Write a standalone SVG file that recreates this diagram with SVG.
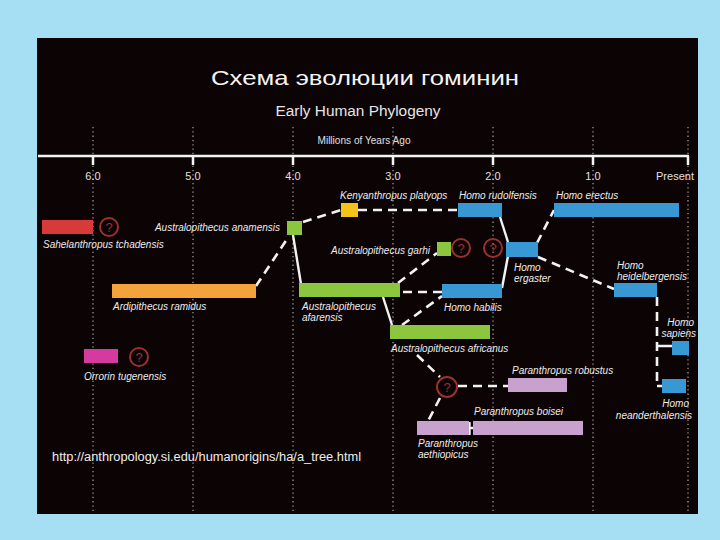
<svg xmlns="http://www.w3.org/2000/svg" width="720" height="540" viewBox="0 0 720 540">
<style>
.lbl{font-family:"Liberation Sans",Arial,sans-serif;font-style:italic;font-size:10px;fill:#ececec}
.ax{font-family:"Liberation Sans",Arial,sans-serif;font-size:11px;fill:#e0e0e0;text-anchor:middle}
.grid{stroke:#9a9a9a;stroke-width:1.3;stroke-dasharray:1.3 3}
.dash{fill:none;stroke:#f2f2f2;stroke-width:2.6;stroke-dasharray:9 6}
.solid{fill:none;stroke:#f2f2f2;stroke-width:2.4}
.q circle{fill:none;stroke:#9c3030;stroke-width:2}
.q text{font-family:"Liberation Sans",Arial,sans-serif;font-size:13px;fill:#9c3030;text-anchor:middle}
.red{fill:#d83a3a}.ora{fill:#f4a23a}.grn{fill:#8cc63f}.yel{fill:#f5c21a}.blu{fill:#3798d4}.mag{fill:#d53a9f}.pnk{fill:#c9a1cf}
</style>
<rect x="0" y="0" width="720" height="540" fill="#a6def4"/>
<rect x="37" y="38" width="661" height="476" fill="#0c0304"/>
<g id="title">
<text x="365" y="85" font-family="'Liberation Sans',Arial,sans-serif" font-size="21" fill="#f4f4f4" text-anchor="middle" textLength="308" lengthAdjust="spacingAndGlyphs">Схема эволюции гоминин</text>
<text x="358" y="116" font-family="'Liberation Sans',Arial,sans-serif" font-size="14" fill="#e6e6e6" text-anchor="middle" textLength="165" lengthAdjust="spacingAndGlyphs">Early Human Phylogeny</text>
<text x="364" y="144" font-family="'Liberation Sans',Arial,sans-serif" font-size="10.5" fill="#e0e0e0" text-anchor="middle" textLength="93" lengthAdjust="spacingAndGlyphs">Millions of Years Ago</text>
</g>
<g id="axis">
<line class="grid" x1="93" y1="127" x2="93" y2="512"/>
<line class="grid" x1="193" y1="127" x2="193" y2="512"/>
<line class="grid" x1="293" y1="127" x2="293" y2="512"/>
<line class="grid" x1="393" y1="127" x2="393" y2="512"/>
<line class="grid" x1="493" y1="127" x2="493" y2="512"/>
<line class="grid" x1="593" y1="127" x2="593" y2="512"/>
<line class="grid" x1="688" y1="127" x2="688" y2="512"/>
<line x1="38" y1="156" x2="689" y2="156" stroke="#f4f4f4" stroke-width="2.5"/>
<path d="M93 156V165M193 156V165M293 156V165M393 156V165M493 156V165M593 156V165M688 156V165" stroke="#f4f4f4" stroke-width="2.5"/>
<text class="ax" x="93" y="180">6.0</text>
<text class="ax" x="193" y="180">5.0</text>
<text class="ax" x="293" y="180">4.0</text>
<text class="ax" x="393" y="180">3.0</text>
<text class="ax" x="493" y="180">2.0</text>
<text class="ax" x="593" y="180">1.0</text>
<text class="ax" x="675" y="180">Present</text>
</g>
<g id="connectors">
<line class="dash" x1="256" y1="286" x2="289" y2="236"/>
<line class="solid" x1="293" y1="235" x2="301" y2="284"/>
<line class="dash" x1="303" y1="222" x2="341" y2="210"/>
<line class="dash" x1="358" y1="210" x2="458" y2="210"/>
<line class="dash" x1="398" y1="283" x2="437" y2="253"/>
<line class="dash" x1="403" y1="292" x2="442" y2="292"/>
<line class="solid" x1="383" y1="297" x2="392" y2="325"/>
<line class="dash" x1="402" y1="325" x2="442" y2="296"/>
<line class="solid" x1="500" y1="217" x2="508" y2="242"/>
<line class="solid" x1="502" y1="288" x2="508" y2="256"/>
<line class="dash" x1="537" y1="243" x2="554" y2="210"/>
<line class="dash" x1="538" y1="257" x2="614" y2="289"/>
<line class="dash" x1="657" y1="297" x2="657" y2="386"/>
<path class="solid" d="M657 346H672M657 386H662"/>
<line class="dash" x1="417" y1="355" x2="440" y2="377"/>
<line class="dash" x1="458" y1="386" x2="508" y2="386"/>
<line class="dash" x1="440" y1="398" x2="428" y2="421"/>
<path class="solid" d="M469.5 422V435M469.5 428H473"/>
</g>
<g id="sahelanthropus">
<rect class="red" x="42" y="220" width="51" height="14"/>
<text class="lbl" x="43" y="248">Sahelanthropus tchadensis</text>
</g>
<g id="q1" class="q"><circle cx="109" cy="227" r="9"/><text x="109" y="232">?</text></g>
<g id="orrorin">
<rect class="mag" x="84" y="349" width="34" height="14"/>
<text class="lbl" x="84" y="380">Orrorin tugenensis</text>
</g>
<g id="q2" class="q"><circle cx="139" cy="357" r="9"/><text x="139" y="362">?</text></g>
<g id="ardipithecus">
<rect class="ora" x="112" y="284" width="144" height="14"/>
<text class="lbl" x="113" y="310">Ardipithecus ramidus</text>
</g>
<g id="anamensis">
<rect class="grn" x="287" y="221" width="15" height="14"/>
<text class="lbl" x="280" y="231" text-anchor="end">Australopithecus anamensis</text>
</g>
<g id="kenyanthropus">
<rect class="yel" x="341" y="203" width="17" height="14"/>
<text class="lbl" x="340" y="199">Kenyanthropus platyops</text>
</g>
<g id="rudolfensis">
<rect class="blu" x="458" y="203" width="44" height="14"/>
<text class="lbl" x="459" y="199">Homo rudolfensis</text>
</g>
<g id="erectus">
<rect class="blu" x="554" y="203" width="125" height="14"/>
<text class="lbl" x="556" y="199">Homo erectus</text>
</g>
<g id="garhi">
<rect class="grn" x="437" y="242" width="14" height="14"/>
<text class="lbl" x="430" y="254" text-anchor="end">Australopithecus garhi</text>
</g>
<g id="q3" class="q"><circle cx="461" cy="248" r="9"/><text x="461" y="253">?</text></g>
<g id="q4" class="q"><circle cx="493" cy="248" r="9"/><text x="493" y="253">?</text></g>
<g id="ergaster">
<rect class="blu" x="506" y="242" width="32" height="15"/>
<text class="lbl" x="514" y="271">Homo</text>
<text class="lbl" x="514" y="282">ergaster</text>
</g>
<g id="afarensis">
<rect class="grn" x="299" y="283" width="101" height="14"/>
<text class="lbl" x="302" y="310">Australopithecus</text>
<text class="lbl" x="302" y="321">afarensis</text>
</g>
<g id="habilis">
<rect class="blu" x="442" y="284" width="60" height="14"/>
<text class="lbl" x="444" y="311">Homo habilis</text>
</g>
<g id="africanus">
<rect class="grn" x="390" y="325" width="100" height="14"/>
<text class="lbl" x="391" y="352">Australopithecus africanus</text>
</g>
<g id="heidelbergensis">
<rect class="blu" x="614" y="283" width="43" height="14"/>
<text class="lbl" x="617" y="269">Homo</text>
<text class="lbl" x="617" y="280">heidelbergensis</text>
</g>
<g id="sapiens">
<rect class="blu" x="672" y="341" width="17" height="14"/>
<text class="lbl" x="694" y="326" text-anchor="end">Homo</text>
<text class="lbl" x="696" y="337" text-anchor="end">sapiens</text>
</g>
<g id="neanderthalensis">
<rect class="blu" x="662" y="379" width="24" height="14"/>
<text class="lbl" x="689" y="407" text-anchor="end">Homo</text>
<text class="lbl" x="692" y="419" text-anchor="end">neanderthalensis</text>
</g>
<g id="q5" class="q"><circle cx="447" cy="387" r="10"/><text x="447" y="392">?</text></g>
<g id="robustus">
<rect class="pnk" x="508" y="378" width="59" height="14"/>
<text class="lbl" x="512" y="374">Paranthropus robustus</text>
</g>
<g id="boisei">
<rect class="pnk" x="473" y="421" width="110" height="14"/>
<text class="lbl" x="474" y="415">Paranthropus boisei</text>
</g>
<g id="aethiopicus">
<rect class="pnk" x="417" y="421" width="52" height="14"/>
<text class="lbl" x="418" y="447">Paranthropus</text>
<text class="lbl" x="418" y="458">aethiopicus</text>
</g>
<g id="source">
<text x="52" y="461" font-family="'Liberation Sans',Arial,sans-serif" font-size="12.5" fill="#eeeeee" textLength="309" lengthAdjust="spacingAndGlyphs">http://anthropology.si.edu/humanorigins/ha/a_tree.html</text>
</g>
</svg>
